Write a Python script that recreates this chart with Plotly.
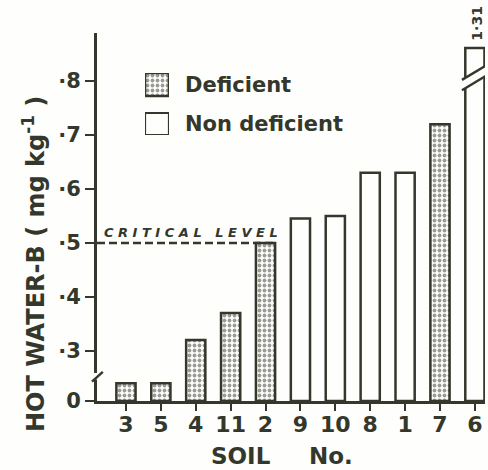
import plotly.graph_objects as go

# ---- data ----
soils = ["3", "5", "4", "11", "2", "9", "10", "8", "1", "7", "6"]
boron = [0.24, 0.24, 0.32, 0.37, 0.50, 0.545, 0.55, 0.63, 0.63, 0.72, 1.31]
deficient = [True, True, True, True, True, False, False, False, False, True, False]
critical_level = 0.50
tick_vals = [0.3, 0.4, 0.5, 0.6, 0.7, 0.8]
tick_text = ["·3", "·4", "·5", "·6", "·7", "·8"]

# axis break: baseline drawn where "0" sits, bars above CLIP_AT are broken
BASE = 0.207
CLIP_AT = 0.861
Y_TOP = 0.889

INK = "#34372b"
BG = "#fefefc"
FONT = "DejaVu Sans"
BAR_W = 0.55
X_RANGE = [-0.83, 10.29]

shown = [min(v, CLIP_AT) for v in boron]

def subset(flag):
    xs, ys, bs = [], [], []
    for s, v, d in zip(soils, shown, deficient):
        if d == flag:
            xs.append(s); ys.append(v - BASE); bs.append(BASE)
    return xs, ys, bs

STIPPLE = dict(shape=".", fgcolor=INK, bgcolor=BG, size=5, solidity=0.45)

fig = go.Figure()
xs, ys, bs = subset(True)
fig.add_trace(go.Bar(
    x=xs, y=ys, base=bs, width=BAR_W, name="Deficient",
    marker=dict(color=BG, line=dict(color=INK, width=2.5), pattern=STIPPLE),
    showlegend=False))
xs, ys, bs = subset(False)
fig.add_trace(go.Bar(
    x=xs, y=ys, base=bs, width=BAR_W, name="Non deficient",
    marker=dict(color=BG, line=dict(color=INK, width=2.5)),
    showlegend=False))

# legend swatches (drawn on a small overlay axis)
fig.add_trace(go.Bar(
    x=[0], y=[23], base=[39], width=1, xaxis="x2", yaxis="y2", showlegend=False,
    marker=dict(color=BG, line=dict(color=INK, width=2.5), pattern=STIPPLE),
    hoverinfo="skip"))
fig.add_trace(go.Bar(
    x=[0], y=[22], base=[0], width=1, xaxis="x2", yaxis="y2", showlegend=False,
    marker=dict(color=BG, line=dict(color=INK, width=2.2)), hoverinfo="skip"))

def ydom(v):
    return (v - BASE) / (Y_TOP - BASE)

shapes = []
# critical level dashed line
i2 = soils.index("2")
shapes.append(dict(type="line", xref="x", yref="y", x0=X_RANGE[0], x1=i2 + BAR_W / 2,
                   y0=critical_level, y1=critical_level,
                   line=dict(color=INK, width=2.5, dash="8px,4px")))
# y-axis break
shapes.append(dict(type="rect", xref="x domain", yref="y domain", x0=-0.02, x1=0.02,
                   y0=ydom(0.247), y1=ydom(0.259), fillcolor=BG, line=dict(width=0)))
shapes.append(dict(type="line", xref="x domain", yref="y domain", x0=-0.013, x1=0.015,
                   y0=ydom(0.243), y1=ydom(0.261), line=dict(color=INK, width=2.5)))
# break marks on clipped bar
for s, v in zip(soils, boron):
    if v > CLIP_AT:
        k = soils.index(s)
        xa, xb = k - 0.37, k + 0.35
        lo0, lo1 = 0.783, 0.811
        up0, up1 = 0.802, 0.830
        shapes.append(dict(type="path", xref="x", yref="y",
                           path=f"M{xa},{lo0} L{xb},{lo1} L{xb},{up1} L{xa},{up0} Z",
                           fillcolor=BG, line=dict(width=0)))
        shapes.append(dict(type="line", xref="x", yref="y", x0=xa, x1=xb, y0=lo0, y1=lo1,
                           line=dict(color=INK, width=2.5)))
        shapes.append(dict(type="line", xref="x", yref="y", x0=xa, x1=xb, y0=up0, y1=up1,
                           line=dict(color=INK, width=2.5)))

def px_x(p):
    return (p - 97) / 388

def px_y(p):
    return (401 - p) / 368

annotations = [
    dict(text="C R I T I C A L   L E V E L", xref="x", yref="y", x=1.85, y=0.52,
         xanchor="center", yanchor="middle",
         showarrow=False, font=dict(family=FONT, size=13, color=INK, style="italic",
                                    weight="bold")),
    dict(text="HOT WATER-B ( mg kg<sup>-1</sup> )", xref="paper", yref="paper",
         x=px_x(34), y=px_y(264), xanchor="center", yanchor="middle", textangle=-90,
         showarrow=False, font=dict(family=FONT, size=24, color=INK, weight="bold")),
    dict(text="SOIL", xref="paper", yref="paper", x=px_x(241), y=px_y(456),
         xanchor="center", yanchor="middle",
         showarrow=False, font=dict(family=FONT, size=23, color=INK, weight="bold")),
    dict(text="No.", xref="paper", yref="paper", x=px_x(331), y=px_y(456),
         xanchor="center", yanchor="middle",
         showarrow=False, font=dict(family=FONT, size=23, color=INK, weight="bold")),
    dict(text="Deficient", xref="paper", yref="paper", x=px_x(183), y=px_y(85),
         xanchor="left", yanchor="middle", showarrow=False,
         font=dict(family=FONT, size=21, color=INK, weight="bold")),
    dict(text="Non deficient", xref="paper", yref="paper", x=px_x(183), y=px_y(124),
         xanchor="left", yanchor="middle", showarrow=False,
         font=dict(family=FONT, size=21, color=INK, weight="bold")),
]
for s, v in zip(soils, boron):
    if v > CLIP_AT:
        annotations.append(dict(text=f"{v:.2f}".replace("1.", "1·"),
                                xref="x", yref="paper", x=soils.index(s) + 0.05,
                                y=px_y(23), xanchor="center", yanchor="middle",
                                textangle=-90, showarrow=False,
                                font=dict(family=FONT, size=14, color=INK, weight="bold")))

fig.update_layout(
    width=488, height=470,
    margin=dict(l=97, r=3, t=33, b=69),
    paper_bgcolor=BG, plot_bgcolor=BG,
    barmode="overlay",
    showlegend=False,
    xaxis=dict(type="category", categoryorder="array", categoryarray=soils,
               range=X_RANGE, showline=True, linecolor=INK, linewidth=3,
               ticks="outside", ticklen=7, tickwidth=2, tickcolor=INK,
               ticklabelstandoff=-5,
               tickfont=dict(family=FONT, size=22, color=INK, weight="bold"),
               showgrid=False, zeroline=False),
    yaxis=dict(range=[BASE, Y_TOP], showline=True, linecolor=INK, linewidth=3,
               tickmode="array", tickvals=[BASE] + tick_vals, ticktext=["0"] + tick_text,
               ticks="outside", ticklen=9, tickwidth=2, tickcolor=INK,
               tickfont=dict(family=FONT, size=21, color=INK, weight="bold"),
               showgrid=False, zeroline=False),
    xaxis2=dict(domain=[px_x(145), px_x(169)], anchor="y2", range=[-0.5, 0.5],
                visible=False, fixedrange=True),
    yaxis2=dict(domain=[px_y(135), px_y(73)], anchor="x2", range=[0, 62],
                visible=False, fixedrange=True),
    shapes=shapes,
    annotations=annotations,
)

fig.write_html("out.html")
